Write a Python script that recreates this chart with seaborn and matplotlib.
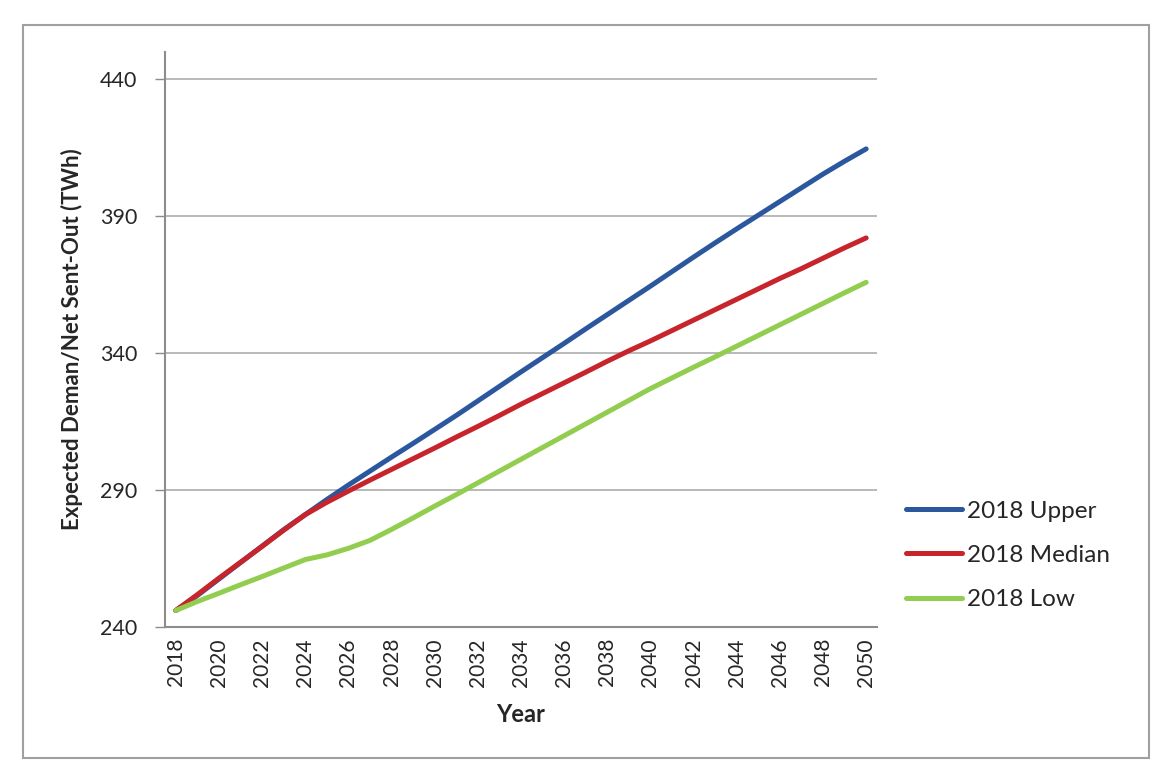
import pandas as pd
import matplotlib
matplotlib.use("Agg")
import matplotlib.pyplot as plt
import seaborn as sns
from matplotlib.patches import Rectangle

years = list(range(2018, 2051))

upper = [246, 251.5, 257.5, 263.5, 269.5, 275.5, 281, 286.5, 291.8, 296.9, 302,
         307, 312.1, 317.2, 322.5, 327.8, 333.1, 338.3, 343.5, 348.8, 354,
         359.2, 364.4, 369.7, 375, 380.2, 385.3, 390.3, 395.3, 400.3, 405.3,
         410, 414.5]
median = [246, 251.8, 257.8, 263.6, 269.4, 275.3, 281, 285.5, 289.6, 293.6,
          297.5, 301.4, 305.3, 309.3, 313.2, 317.2, 321.3, 325.2, 329.1, 333,
          337, 340.8, 344.4, 348.2, 352, 355.8, 359.6, 363.4, 367.2, 370.8,
          374.6, 378.4, 382]
low = [246, 249.3, 252.3, 255.4, 258.4, 261.5, 264.6, 266.3, 268.7, 271.6,
       275.6, 279.8, 284.1, 288.3, 292.6, 296.9, 301.2, 305.5, 309.8, 314.1,
       318.4, 322.7, 327, 330.9, 334.8, 338.6, 342.5, 346.4, 350.3, 354.2,
       358.1, 362, 365.8]

series_names = ["2018 Upper", "2018 Median", "2018 Low"]
colors = ["#2B579E", "#C8242C", "#92CD50"]

df = pd.DataFrame({
    "Year": years * 3,
    "value": upper + median + low,
    "series": [s for s in series_names for _ in years],
})

sns.set_style("white")
plt.rcParams["font.family"] = ["Lato", "DejaVu Sans"]

fig = plt.figure(figsize=(11.76, 7.8), dpi=100)
ax = fig.add_axes([0.1403, 0.1962, 0.6054, 0.7376])

sns.lineplot(data=df, x="Year", y="value", hue="series", hue_order=series_names,
             palette=colors, linewidth=3.6, ax=ax, legend=True,
             solid_capstyle="round")

ax.set_xlim(2017.5, 2050.5)
ax.set_ylim(240, 450)
ax.set_yticks([240, 290, 340, 390, 440])
ax.yaxis.grid(True, color="#A6A6A6", linewidth=1.1)
ax.set_axisbelow(True)

ax.set_xticks(years[::2])
ax.set_xticklabels([str(y) for y in years[::2]], rotation=90, fontsize=15)
ax.set_xticks([y - 0.5 for y in years] + [2050.5], minor=True)
ax.tick_params(axis="x", which="major", length=0, pad=8)
ax.tick_params(axis="x", which="minor", length=6, color="#8C8C8C", width=1, direction="out")
ax.tick_params(axis="y", length=7, color="#8C8C8C", width=1, direction="out",
               labelsize=15.5, pad=13, left=True)

for side in ["top", "right"]:
    ax.spines[side].set_visible(False)
for side in ["left", "bottom"]:
    ax.spines[side].set_color("#8C8C8C")
    ax.spines[side].set_linewidth(1.5)

ax.set_xlabel("Year", fontsize=17, fontweight="bold", labelpad=12)
ax.set_ylabel("Expected Deman/Net Sent-Out (TWh)", fontsize=16, fontweight="bold", labelpad=12)

ax.legend(loc="upper left", bbox_to_anchor=(0.752, 0.386), bbox_transform=fig.transFigure,
          frameon=False, fontsize=17.5, handlelength=2.3, handletextpad=0.2,
          labelspacing=0.95)

fig.patches.append(Rectangle((23 / 1176, 1 - 758 / 780), (1149 - 23) / 1176, (758 - 25) / 780,
                             transform=fig.transFigure, fill=False,
                             edgecolor="#A0A0A0", linewidth=1.5))

fig.savefig("out.png", dpi=100)
